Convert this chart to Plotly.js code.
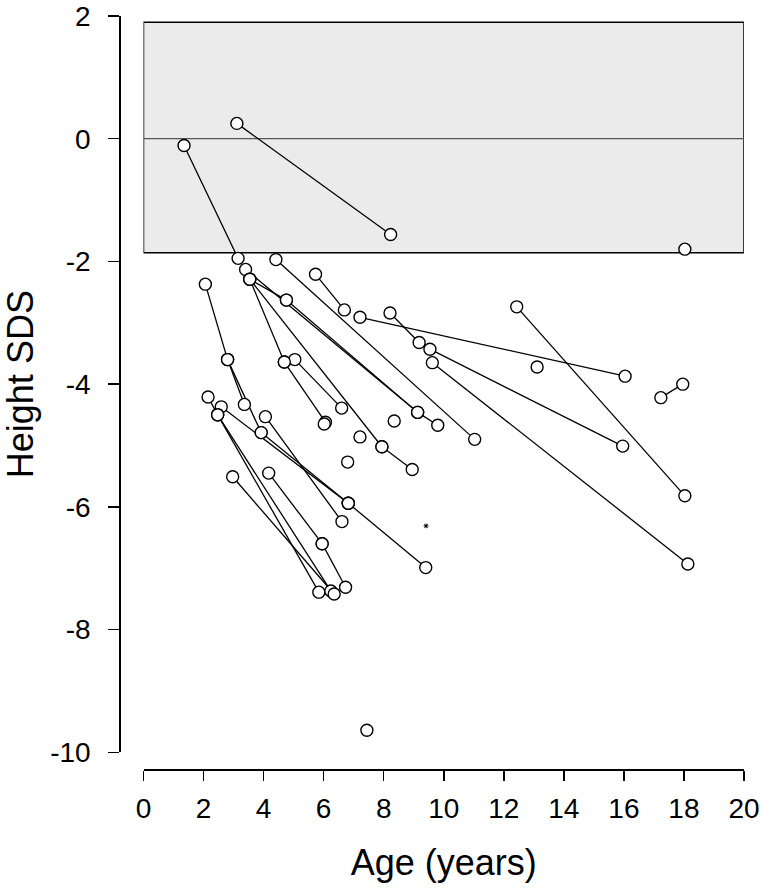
<!DOCTYPE html>
<html>
<head>
<meta charset="utf-8">
<script src="https://cdn.plot.ly/plotly-3.0.1.min.js"></script>
<style>html,body{margin:0;padding:0;background:#fff;}#chart{width:766px;height:892px;}</style>
</head>
<body>
<div id="chart"></div>
<script>
// Paired visits: start -> end (age in years, height SDS)
const startAge = [1.35, 3.11, 3.54, 4.76, 3.40, 9.13, 4.41, 5.73, 7.21, 8.21, 9.54, 9.62, 12.43, 17.23, 2.06, 2.80, 2.80, 3.54, 3.54, 4.69, 5.04, 7.94, 2.59, 3.92, 6.82, 4.06, 2.15, 2.47, 2.47, 2.97, 4.17, 5.95];
const startSDS = [-0.11, 0.25, -2.29, -2.63, -2.13, -4.46, -1.97, -2.21, -2.91, -2.84, -3.43, -3.65, -2.74, -4.22, -2.37, -3.60, -3.60, -2.29, -2.29, -3.64, -3.60, -5.02, -4.37, -4.79, -5.94, -4.53, -4.21, -4.50, -4.50, -5.51, -5.45, -6.60];
const endAge   = [3.15, 8.23, 4.76, 9.13, 9.13, 9.80, 11.03, 6.69, 16.04, 9.18, 15.96, 18.13, 18.03, 17.96, 2.80, 3.36, 3.92, 4.69, 7.94, 6.06, 6.60, 8.95, 6.82, 6.82, 9.40, 6.61, 2.47, 5.84, 6.24, 6.35, 5.95, 6.73];
const endSDS   = [-1.95, -1.56, -2.63, -4.46, -4.46, -4.67, -4.90, -2.79, -3.87, -3.32, -5.01, -6.93, -5.82, -4.00, -3.60, -4.33, -4.79, -3.64, -5.02, -4.62, -4.39, -5.39, -5.94, -5.94, -6.99, -6.24, -4.50, -7.39, -7.37, -7.42, -6.60, -7.31];
// Single measurements
const singleAge = [18.03, 8.35, 6.80, 13.11, 7.44, 7.21, 6.02];
const singleSDS = [-1.80, -4.60, -5.27, -3.72, -9.64, -4.86, -4.65];
// stray mark
const markAge = [9.41];
const markSDS = [-6.31];
// reference band (height SDS)
const bandLow = -1.86, bandHigh = 1.90;
const xTicks = [0, 2, 4, 6, 8, 10, 12, 14, 16, 18, 20];
const yTicks = [-10, -8, -6, -4, -2, 0, 2];

const lx = [], ly = [];
for (let i = 0; i < startAge.length; i++) {
  lx.push(startAge[i], endAge[i], null);
  ly.push(startSDS[i], endSDS[i], null);
}
const px = startAge.concat(endAge, singleAge);
const py = startSDS.concat(endSDS, singleSDS);

const font = '"Liberation Sans", Arial, sans-serif';

const traces = [
  {x: lx, y: ly, mode: 'lines', type: 'scatter', line: {color: '#000', width: 1.3}, hoverinfo: 'skip', showlegend: false},
  {x: px, y: py, mode: 'markers', type: 'scatter', marker: {symbol: 'circle', size: 12, color: '#fff', line: {color: '#000', width: 1.4}}, showlegend: false},
  {x: markAge, y: markSDS, mode: 'markers', type: 'scatter', marker: {symbol: 'asterisk-open', size: 4, color: '#000', line: {color: '#000', width: 1}}, showlegend: false}
];

const L = 110, R = 22, T = 16, B = 110, W = 766, H = 892;
const pw = W - L - R, ph = H - T - B;
const layout = {
  width: W, height: H,
  margin: {l: L, r: R, t: T, b: B, pad: 0},
  paper_bgcolor: '#fff', plot_bgcolor: 'rgba(0,0,0,0)',
  showlegend: false,
  font: {family: font, color: '#000'},
  xaxis: {
    range: [0, 20], domain: [(143.5 - L) / pw, 1],
    anchor: 'free', position: (H - B - 769) / ph,
    tickvals: xTicks, ticktext: xTicks.map(String),
    ticks: 'outside', ticklen: 10, tickwidth: 1.5, tickcolor: '#000',
    ticklabelstandoff: 4,
    showline: true, linecolor: '#000', linewidth: 1.5,
    showgrid: false, zeroline: false,
    tickfont: {size: 28, family: font},
    title: {text: 'Age (years)', font: {size: 36, family: font}, standoff: 26}
  },
  yaxis: {
    range: [-10, 2], domain: [(H - B - 752.3) / ph, 1],
    anchor: 'free', position: (119.3 - L) / pw,
    tickvals: yTicks, ticktext: yTicks.map(String),
    ticks: 'outside', ticklen: 11, tickwidth: 1.5, tickcolor: '#000',
    ticklabelstandoff: 12,
    showline: true, linecolor: '#000', linewidth: 1.5,
    showgrid: false, zeroline: false,
    tickfont: {size: 28, family: font},
    title: {text: 'Height SDS', font: {size: 36, family: font}, standoff: 11}
  },
  shapes: [
    {type: 'rect', xref: 'x', yref: 'y', x0: xTicks[0], x1: xTicks[xTicks.length - 1], y0: bandLow, y1: bandHigh,
     fillcolor: '#ebebeb', line: {color: '#000', width: 1.5}, layer: 'below'},
    {type: 'line', xref: 'x', yref: 'y', x0: xTicks[0], x1: xTicks[xTicks.length - 1], y0: 0, y1: 0,
     line: {color: '#555', width: 1.2}, layer: 'below'}
  ]
};
Plotly.newPlot('chart', traces, layout, {displayModeBar: false, staticPlot: true});
</script>
</body>
</html>
